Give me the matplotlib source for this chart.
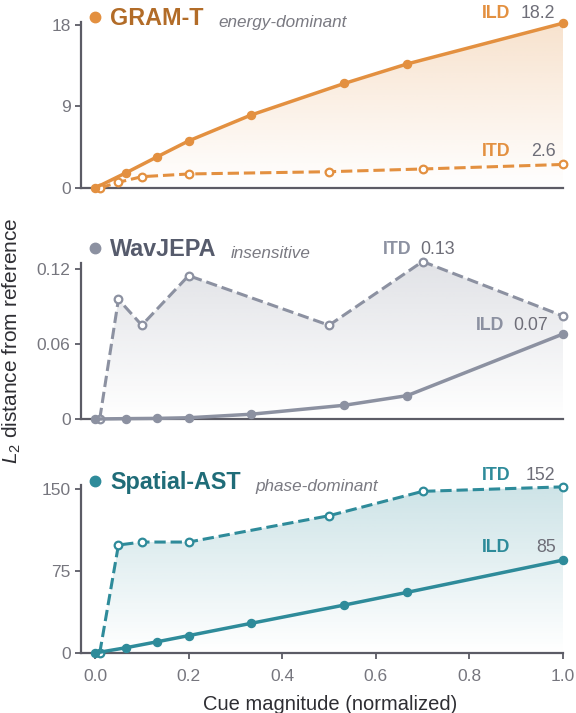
import matplotlib
matplotlib.use('Agg')
import matplotlib.pyplot as plt
import matplotlib.colors as mcolors
import matplotlib.transforms as mtransforms
import numpy as np

plt.rcParams['font.family'] = ['Liberation Sans', 'DejaVu Sans']
plt.rcParams['mathtext.fontset'] = 'custom'
plt.rcParams['mathtext.it'] = 'Liberation Sans:italic'
plt.rcParams['mathtext.rm'] = 'Liberation Sans'

# cue magnitudes (normalized) at which each probe was run
ild_x = [0, 0.067, 0.133, 0.2, 0.333, 0.533, 0.667, 1.0]
itd_x = [0.01, 0.05, 0.1, 0.2, 0.5, 0.7, 1.0]

# L2 distance from reference embedding
gram_ild = [0, 1.7, 3.45, 5.2, 8.05, 11.55, 13.7, 18.2]
gram_itd = [0, 0.63, 1.25, 1.55, 1.8, 2.1, 2.6]
wav_ild = [0, 0.0003, 0.0005, 0.001, 0.0038, 0.011, 0.0187, 0.068]
wav_itd = [0, 0.0957, 0.075, 0.1147, 0.075, 0.126, 0.0824]
sast_ild = [0, 4.9, 10.3, 15.9, 27.1, 43.9, 55.5, 85]
sast_itd = [0, 98.8, 101.5, 101.5, 125.6, 147.9, 152]

models = ['GRAM-T', 'WavJEPA', 'Spatial-AST']
notes = ['energy-dominant', 'insensitive', 'phase-dominant']
ild_series = [gram_ild, wav_ild, sast_ild]
itd_series = [gram_itd, wav_itd, sast_itd]
y_ticks = [[0, 9, 18], [0, 0.06, 0.12], [0, 75, 150]]
y_ticklabels = [['0', '9', '18'], ['0', '0.06', '0.12'], ['0', '75', '150']]
y_tops = [18.33, 0.1248, 153.7]
value_fmt = ['{:.1f}', '{:.2f}', '{:.0f}']

line_colors = ['#E39040', '#8C91A1', '#2E8B9A']
title_colors = ['#B26C28', '#565B6C', '#1F6C78']
fill_alpha = [0.26, 0.26, 0.24]

# axes rectangles in figure fraction
W, H = 576, 713
boxes = [(22, 188), (263, 419), (485, 653)]

# label placement: (x of name, x of value, y baseline) for ILD and ITD
ild_lab = [(0.887, 0.984, 18.77), (0.874, 0.968, 0.0708), (0.887, 0.984, 92.1)]
itd_lab = [(0.887, 0.984, 3.48), (0.677, 0.769, 0.1324), (0.887, 0.984, 158.3)]
title_base = [0.979, 1.048, 0.976]
dot_y = [1.030, 1.096, 1.021]

spine_col = '#5C5C66'
tick_col = '#76767E'
val_col = '#6E6E78'


def gradient_fill(ax, x, y, color, top, alpha):
    poly = ax.fill_between(x, y, 0, color='none', lw=0)
    path = poly.get_paths()[0]
    rgba = np.zeros((200, 1, 4))
    rgba[..., :3] = mcolors.to_rgb(color)
    rgba[..., 3] = np.linspace(alpha, 0, 200)[:, None]
    im = ax.imshow(rgba, extent=[x[0], x[-1], 0, top], origin='upper',
                   aspect='auto', zorder=1, interpolation='bilinear')
    im.set_clip_path(path, transform=ax.transData)


fig = plt.figure(figsize=(W / 100, H / 100), dpi=100)

for i in range(3):
    top_px, bot_px = boxes[i]
    ax = fig.add_axes([81 / W, (H - bot_px) / H, (563 - 81) / W, (bot_px - top_px) / H])
    col = line_colors[i]
    ild = ild_series[i]
    itd = itd_series[i]

    # shaded envelope under the upper of the two curves
    xu = np.union1d(ild_x, itd_x)
    env = np.maximum(np.interp(xu, ild_x, ild), np.interp(xu, itd_x, itd))
    gradient_fill(ax, xu, env, col, y_tops[i], fill_alpha[i])

    ax.plot(itd_x, itd, '--', color=col, lw=2.2, marker='o', ms=5.5,
            mfc='white', mec=col, mew=1.6, zorder=3, clip_on=False)
    ax.plot(ild_x, ild, '-', color=col, lw=2.5, marker='o', ms=5.8,
            mfc=col, mec=col, zorder=4, clip_on=False)

    ax.set_xlim(-0.03, 1.0)
    ax.set_ylim(0, y_tops[i])
    ax.set_yticks(y_ticks[i])
    ax.set_yticklabels(y_ticklabels[i])

    for s in ['top', 'right']:
        ax.spines[s].set_visible(False)
    for s in ['left', 'bottom']:
        ax.spines[s].set_color(spine_col)
        ax.spines[s].set_linewidth(1.6)
    ax.tick_params(axis='y', colors=spine_col, labelcolor=tick_col,
                   labelsize=12.5, length=4.5, width=1.3, pad=3)
    if i < 2:
        ax.tick_params(axis='x', length=0, labelbottom=False)
    else:
        ax.set_xticks([0, 0.2, 0.4, 0.6, 0.8, 1.0])
        ax.set_xticklabels(['0.0', '0.2', '0.4', '0.6', '0.8', '1.0'])
        ax.tick_params(axis='x', colors=spine_col, labelcolor=tick_col,
                       labelsize=12.5, length=4.5, width=1.3, pad=7)
        ax.set_xlabel('Cue magnitude (normalized)', fontsize=14.5, color='#2E2E33')
        ax.xaxis.set_label_coords(0.517, -0.25)

    # panel heading: dot, model name, behaviour note
    trans = mtransforms.blended_transform_factory(ax.transData, ax.transAxes)
    ax.plot([0], [dot_y[i]], 'o', ms=7.5, color=col, transform=trans, clip_on=False)
    name = ax.text(0.032, title_base[i], models[i], transform=trans, fontsize=16.8,
                   fontweight='bold', color=title_colors[i], va='baseline')
    ax.annotate(notes[i], xy=(1, 0), xycoords=name, xytext=(10.5, 0),
                textcoords='offset points', fontsize=12.3, style='italic',
                color='#7A7A82', va='bottom')

    # end labels for the two cue types
    for lab, ser, (xn, xv, yb) in [('ILD', ild, ild_lab[i]), ('ITD', itd, itd_lab[i])]:
        ax.text(xn, yb, lab, fontsize=12.8, fontweight='bold', color=col,
                ha='right', va='baseline', clip_on=False)
        ax.text(xv, yb, value_fmt[i].format(max(ser)), fontsize=12.8, color=val_col,
                ha='right', va='baseline', clip_on=False)

fig.text(12 / W, 0.522, r'$L_2$ distance from reference', rotation=90,
         fontsize=15, color='#2E2E33', ha='center', va='center')

fig.savefig('out.png', dpi=100)
